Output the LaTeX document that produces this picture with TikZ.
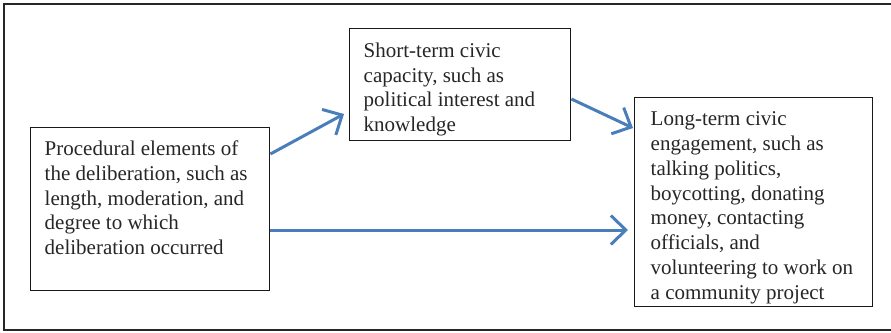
\documentclass[tikz,border=0pt]{standalone}
\usepackage{fontspec}
\setmainfont{Liberation Serif}
\usetikzlibrary{arrows.meta}

\definecolor{arrowblue}{RGB}{74,126,187}
\newcommand{\boxtext}[3]{\parbox[c][#1][t]{#2}{\raggedright #3}}

\tikzset{
	box/.style={draw=black!90, line width=1.4pt, anchor=north west, inner xsep=14pt, inner ysep=13pt,
		font=\fontsize{21pt}{24.8pt}\selectfont, text=black!85},
	flow/.style={draw=arrowblue, line width=3pt, -{Straight Barb[length=15pt,width=29pt]}},
	frame/.style={draw=black!85, line width=1.6pt}
}

\begin{document}
\begin{tikzpicture}[x=1pt,y=-1pt]
		\useasboundingbox (0,0) rectangle (891,332);
		\draw[frame] (4,4) rectangle (897,330);
		% the three boxes
		\node[box] (proc) at (30,127) {\boxtext{137pt}{211pt}{Procedural elements of\\ the deliberation, such as\\ length, moderation, and\\ degree to which\\ deliberation occurred}};
		\node[box, inner ysep=14pt] (short) at (349,28) {\boxtext{84pt}{193pt}{Short-term civic\\ capacity, such as\\ political interest and\\ knowledge}};
		\node[box, inner xsep=16pt, inner ysep=14pt] (long) at (634,97) {\boxtext{181pt}{206pt}{Long-term civic\\ engagement, such as\\ talking politics,\\ boycotting, donating\\ money, contacting\\ officials, and\\ volunteering to work on\\ a community project}};
		% arrows
		\draw[flow] ([yshift=-27pt]proc.north east) -- ([xshift=-5pt,yshift=-86pt]short.north west);
		\draw[flow] ([yshift=-71pt]short.north east) -- ([xshift=-1pt,yshift=-31pt]long.north west);
		\draw[flow] ([yshift=-103pt]proc.north east) -- ([xshift=-6pt,yshift=-133pt]long.north west);
		\end{tikzpicture}
\end{document}
